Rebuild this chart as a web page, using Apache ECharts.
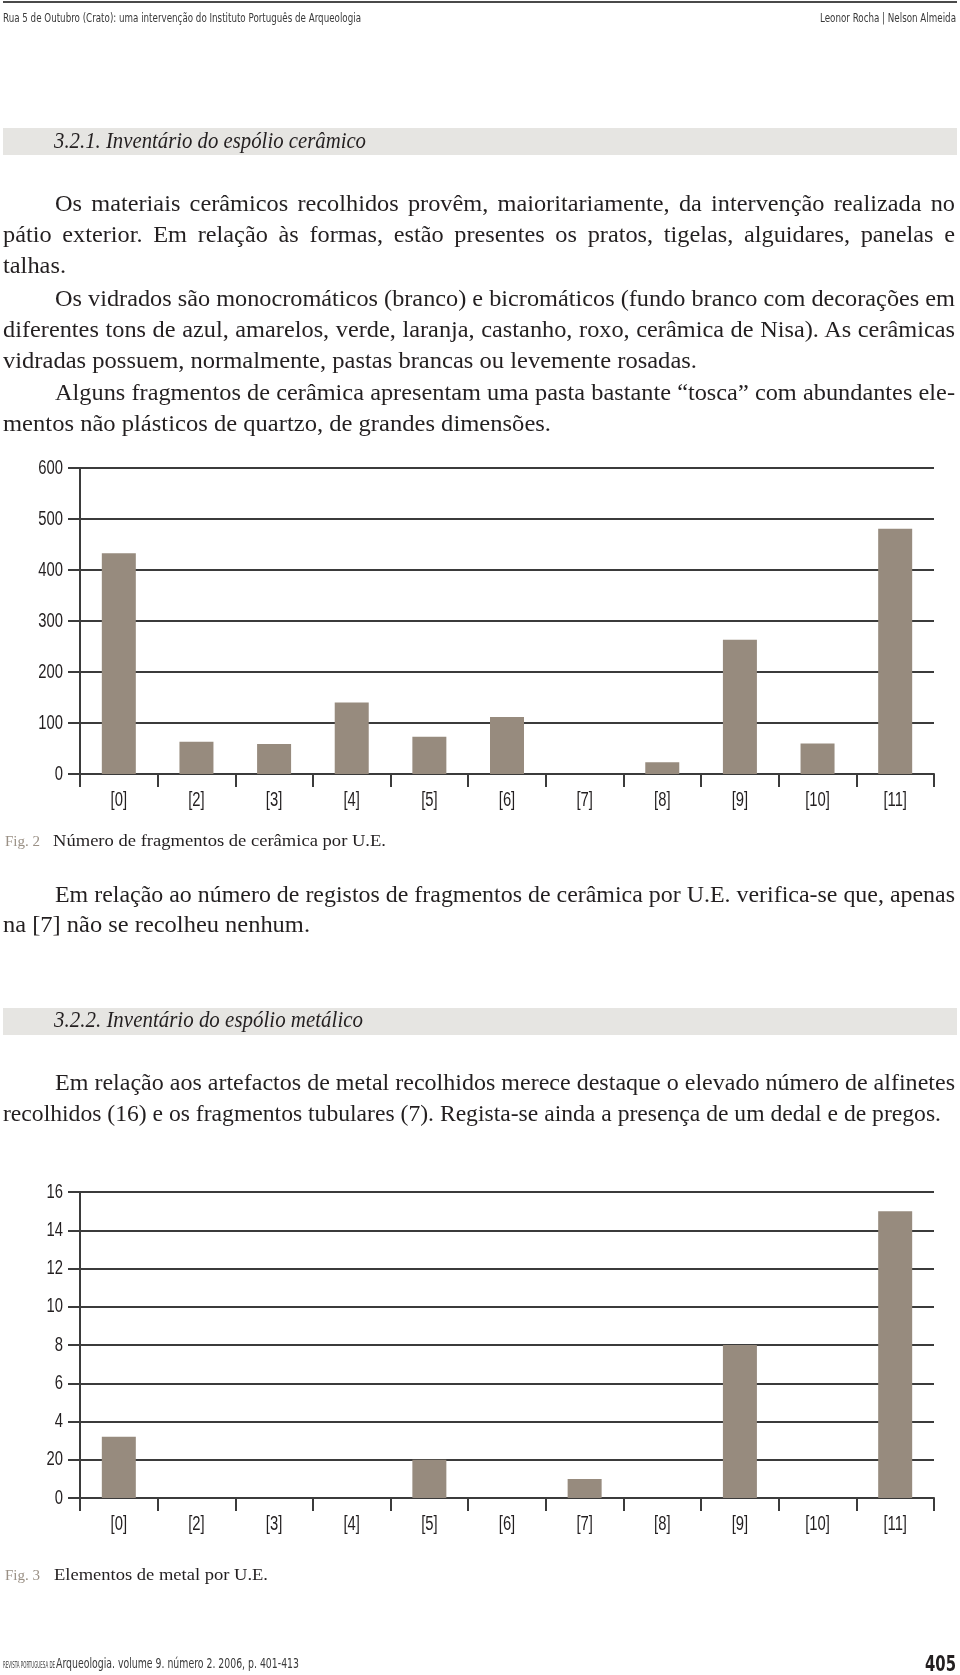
<!DOCTYPE html>
<html><head><meta charset="utf-8">
<script src="https://cdn.jsdelivr.net/npm/echarts@6/dist/echarts.min.js"></script>
<style>
html,body{margin:0;padding:0;background:#fff;}
#page{position:relative;width:960px;height:1675px;overflow:hidden;background:#fff;}
#chart{position:absolute;left:0;top:0;width:960px;height:1675px;z-index:0;}
.ln{position:absolute;white-space:nowrap;line-height:1.2;transform-origin:0 50%;z-index:2;}
.band{position:absolute;left:3px;width:954px;background:#e6e5e2;z-index:1;}
.rule{position:absolute;left:3px;top:1px;width:954px;height:2px;background:#4a4a4a;z-index:1;}
</style></head>
<body><div id="page"><div id="chart"></div><div class="rule"></div>
<div class="band" style="top:128px;height:27px"></div>
<div class="band" style="top:1008px;height:27px"></div>
</div>
<script>
// ---- chart data ----
const categories = ['[0]','[2]','[3]','[4]','[5]','[6]','[7]','[8]','[9]','[10]','[11]'];
const ceramicCounts = [433, 63, 59, 140, 73, 112, 0, 23, 263, 60, 481];
const metalCounts = [3.2, 0, 0, 0, 2, 0, 1, 0, 8, 0, 15];
const ceramicTicks = ['0','100','200','300','400','500','600'];
const metalTicks = ['0','20','4','6','8','10','12','14','16'];

const SERIF = "'Liberation Serif','DejaVu Serif',serif";
const SANS = "'Liberation Sans Narrow','DejaVu Sans Condensed','Liberation Sans',sans-serif";
const INK = '#231f20';

const textLines = [
  {t:'Rua 5 de Outubro (Crato): uma intervenção do Instituto Português de Arqueologia', x:3, b:22, w:358, m:'f', f:SANS, s:13, c:'#3a3a3a'},
  {t:'Leonor Rocha | Nelson Almeida', x:820, b:22, w:136, m:'f', f:SANS, s:13, c:'#3a3a3a'},
  {t:'3.2.1. Inventário do espólio cerâmico', x:54, b:148, w:312, m:'f', f:SERIF, s:23, st:'italic'},
  {t:'Os materiais cerâmicos recolhidos provêm, maioritariamente, da intervenção realizada no', x:55, b:211, w:900, m:'j'},
  {t:'pátio exterior. Em relação às formas, estão presentes os pratos, tigelas, alguidares, panelas e', x:3, b:242, w:952, m:'j'},
  {t:'talhas.', x:3, b:273, w:63, m:'f', body:1},
  {t:'Os vidrados são monocromáticos (branco) e bicromáticos (fundo branco com decorações em', x:55, b:306, w:900, m:'j'},
  {t:'diferentes tons de azul, amarelos, verde, laranja, castanho, roxo, cerâmica de Nisa). As cerâmicas', x:3, b:337, w:952, m:'j'},
  {t:'vidradas possuem, normalmente, pastas brancas ou levemente rosadas.', x:3, b:368, w:694, m:'f', body:1},
  {t:'Alguns fragmentos de cerâmica apresentam uma pasta bastante “tosca” com abundantes ele-', x:55, b:400, w:900, m:'j'},
  {t:'mentos não plásticos de quartzo, de grandes dimensões.', x:3, b:431, w:548, m:'f', body:1},
  {t:'Fig. 2', x:5, b:846, w:35, m:'f', s:15, c:'#9a9085'},
  {t:'Número de fragmentos de cerâmica por U.E.', x:53, b:846, w:333, m:'f', s:17},
  {t:'Em relação ao número de registos de fragmentos de cerâmica por U.E. verifica-se que, apenas', x:55, b:902, w:900, m:'j'},
  {t:'na [7] não se recolheu nenhum.', x:3, b:932, w:307, m:'f', body:1},
  {t:'3.2.2. Inventário do espólio metálico', x:54, b:1027, w:309, m:'f', s:23, st:'italic'},
  {t:'Em relação aos artefactos de metal recolhidos merece destaque o elevado número de alfinetes', x:55, b:1090, w:900, m:'j'},
  {t:'recolhidos (16) e os fragmentos tubulares (7). Regista-se ainda a presença de um dedal e de pregos.', x:3, b:1121, w:938, m:'f', body:1},
  {t:'Fig. 3', x:5, b:1580, w:35, m:'f', s:15, c:'#9a9085'},
  {t:'Elementos de metal por U.E.', x:54, b:1580, w:214, m:'f', s:17},
  {t:'REVISTA PORTUGUESA DE', x:3, b:1668, w:52, m:'f', f:SANS, s:8, c:'#3a3a3a'},
  {t:'Arqueologia. volume 9. número 2. 2006, p. 401-413', x:56, b:1668, w:243, m:'f', f:SANS, s:14, c:'#3a3a3a'},
  {t:'405', x:925, b:1671, w:31, m:'f', f:SANS, s:22, wt:'bold', c:'#231f20'}
];

const page = document.getElementById('page');
const made = [];
textLines.forEach(L => {
  const d = document.createElement('div');
  d.className = 'ln';
  d.style.left = L.x + 'px';
  d.style.top = '0px';
  d.style.fontFamily = L.f || SERIF;
  d.style.fontSize = (L.s || 23) + 'px';
  d.style.fontStyle = L.st || 'normal';
  d.style.fontWeight = L.wt || 'normal';
  d.style.color = L.c || INK;
  const sp = document.createElement('span');
  sp.textContent = L.t;
  const mk = document.createElement('span');
  mk.style.cssText = 'display:inline-block;width:0;height:0;vertical-align:baseline';
  d.appendChild(sp); d.appendChild(mk);
  page.appendChild(d);
  const base = mk.offsetTop;
  d.style.top = (L.b - base) + 'px';
  made.push({L, d, sp, nat: sp.getBoundingClientRect().width});
});
// glyph width ratio estimated from the unjustified body lines
const ratios = made.filter(o => o.L.body).map(o => o.L.w / o.nat);
const s0 = ratios.length ? ratios.reduce((a, b) => a + b, 0) / ratios.length : 1;
made.forEach(({L, d, sp, nat}) => {
  if (L.m === 'j') {
    const spaces = (L.t.match(/ /g) || []).length;
    const scaled = nat * s0;
    if (scaled < L.w && spaces) {
      sp.style.wordSpacing = ((L.w - scaled) / (spaces * s0)) + 'px';
      const now = sp.getBoundingClientRect().width;
      d.style.transform = 'scaleX(' + (L.w / now) + ')';
    } else {
      d.style.transform = 'scaleX(' + (L.w / nat) + ')';
    }
  } else {
    d.style.transform = 'scaleX(' + (L.w / nat) + ')';
  }
});

// ---- charts ----
const lineColor = '#3b3b3b';
const barColor = '#978b7e';
const labelFont = "'Liberation Sans','Roboto',sans-serif";
const labelSize = 20;
const labelSquash = 0.74;

const chart = echarts.init(document.getElementById('chart'), null, {renderer: 'canvas', width: 960, height: 1675});

function xAxisCfg(i) {
  return {
    type: 'category', gridIndex: i, data: categories, boundaryGap: true,
    axisLine: {show: true, lineStyle: {color: lineColor, width: 2}},
    axisTick: {show: true, inside: false, length: 13, alignWithLabel: false, lineStyle: {color: lineColor, width: 2}},
    axisLabel: {show: false},
    splitLine: {show: false}
  };
}
function yAxisCfg(i, max, interval) {
  return {
    type: 'value', gridIndex: i, min: 0, max: max, interval: interval,
    axisLine: {show: true, lineStyle: {color: lineColor, width: 2}},
    axisTick: {show: true, inside: false, length: 12, lineStyle: {color: lineColor, width: 2}},
    axisLabel: {show: false},
    splitLine: {show: true, lineStyle: {color: lineColor, width: 2}}
  };
}

chart.setOption({
  animation: false,
  backgroundColor: 'transparent',
  grid: [
    {left: 80, top: 468, width: 854, height: 306, containLabel: false},
    {left: 80, top: 1192, width: 854, height: 306, containLabel: false}
  ],
  xAxis: [xAxisCfg(0), xAxisCfg(1)],
  yAxis: [yAxisCfg(0, 600, 100), yAxisCfg(1, 16, 2)],
  series: [
    {type: 'bar', xAxisIndex: 0, yAxisIndex: 0, data: ceramicCounts, barWidth: 34, itemStyle: {color: barColor}, silent: true},
    {type: 'bar', xAxisIndex: 1, yAxisIndex: 1, data: metalCounts, barWidth: 34, itemStyle: {color: barColor}, silent: true}
  ]
});

// condensed tick labels, placed through the axes' own scales
const axesInfo = [
  {idx: 0, interval: 100, ticks: ceramicTicks},
  {idx: 1, interval: 2, ticks: metalTicks}
];
const labelEls = [];
axesInfo.forEach(({idx, interval, ticks}) => {
  const axisX = chart.convertToPixel({xAxisIndex: idx}, categories[0]) - chart.getModel().getComponent('xAxis', idx).axis.getBandWidth() / 2;
  const zeroY = chart.convertToPixel({yAxisIndex: idx}, 0);
  ticks.forEach((txt, k) => {
    const y = chart.convertToPixel({yAxisIndex: idx}, k * interval);
    labelEls.push({type: 'text', x: axisX - 17, y: y, scaleX: labelSquash, silent: true,
      style: {text: txt, font: labelSize + 'px ' + labelFont, fill: INK, align: 'right', verticalAlign: 'middle'}});
  });
  categories.forEach(c => {
    const x = chart.convertToPixel({xAxisIndex: idx}, c);
    labelEls.push({type: 'text', x: x, y: zeroY + 26, scaleX: labelSquash, silent: true,
      style: {text: c, font: labelSize + 'px ' + labelFont, fill: INK, align: 'center', verticalAlign: 'middle'}});
  });
});
chart.setOption({graphic: {elements: labelEls}});
</script>
</body></html>
